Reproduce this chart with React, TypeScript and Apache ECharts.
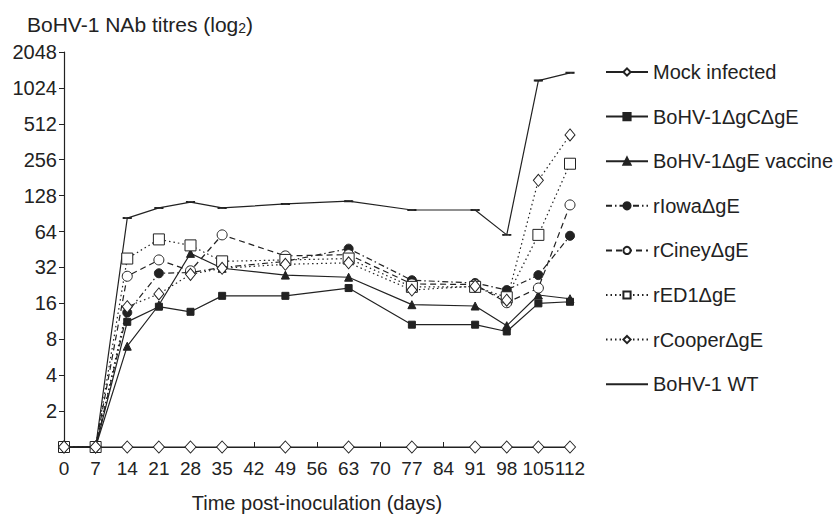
import React, { useEffect, useRef } from "react";
import * as echarts from "echarts";

// Days post-inoculation at which titres were measured
const days = [0, 7, 14, 21, 28, 35, 49, 63, 77, 91, 98, 105, 112];
const xTicks = [0, 7, 14, 21, 28, 35, 42, 49, 56, 63, 70, 77, 84, 91, 98, 105, 112];
const yTicks = [2, 4, 8, 16, 32, 64, 128, 256, 512, 1024, 2048];

const seriesNames = [
  "Mock infected",
  "BoHV-1\u0394gC\u0394gE",
  "BoHV-1\u0394gE vaccine",
  "rIowa\u0394gE",
  "rCiney\u0394gE",
  "rED1\u0394gE",
  "rCooper\u0394gE",
  "BoHV-1 WT",
];

// NAb titres (value 1 = baseline, shown as "0")
const mockInfected = [1, 1, 1, 1, 1, 1, 1, 1, 1, 1, 1, 1, 1];
const gCgE = [1, 1, 11.2, 15, 13.6, 18.5, 18.5, 21.5, 10.6, 10.6, 9.3, 16, 16.5];
const gEVaccine = [1, 1, 7, 15.5, 42, 31.5, 27.6, 26.5, 15.6, 15.2, 10.4, 18.8, 17.5];
const rIowa = [1, 1, 13.4, 28.6, 29, 32, 36, 46, 25, 23.7, 20.7, 27.6, 59];
const rCiney = [1, 1, 27, 37, 30, 60, 40, 41, 23.3, 23, 16.2, 21.5, 107];
const rED1 = [1, 1, 38, 55, 49, 36, 37, 38, 22, 22, 18, 60, 237];
const rCooper = [1, 1, 15, 19.2, 28, 31.5, 34, 35, 20.7, 22.3, 17, 172, 413];
const wt = [1, 1, 83, 101, 113, 101, 109, 115, 97, 97, 60, 1180, 1370];

const FONT = "'Liberation Sans', Arial, Helvetica, sans-serif";
const INK = "#222";

function makeSeries(
  name: string,
  values: number[],
  symbol: string,
  size: number | number[],
  filled: boolean,
  dash: any
) {
  return {
    name,
    type: "line",
    // y axis is log2 of the titre
    data: days.map((d, i) => [d, Math.log2(values[i])]),
    symbol,
    symbolSize: size,
    silent: true,
    lineStyle: { color: INK, width: 1.2, type: dash },
    itemStyle: {
      color: filled ? INK : "#fff",
      borderColor: INK,
      borderWidth: 1,
    },
    emphasis: { disabled: true },
  };
}

export default function App() {
  const ref = useRef<HTMLDivElement>(null);

  useEffect(() => {
    const chart = echarts.init(ref.current!, null, { renderer: "svg" });
    const series = [
      makeSeries(seriesNames[7], wt, "rect", [7, 1.5], true, "solid"),
      makeSeries(seriesNames[1], gCgE, "rect", 7, true, "solid"),
      makeSeries(seriesNames[2], gEVaccine, "triangle", 8, true, "solid"),
      makeSeries(seriesNames[3], rIowa, "circle", 9, true, [6, 3, 1.5, 3]),
      makeSeries(seriesNames[4], rCiney, "circle", 10, false, [6, 4]),
      makeSeries(seriesNames[5], rED1, "rect", 11, false, [1.5, 3]),
      makeSeries(seriesNames[6], rCooper, "diamond", [10, 12], false, [1.5, 3]),
      makeSeries(seriesNames[0], mockInfected, "diamond", [11, 12], false, "solid"),
    ];

    chart.setOption({
      animation: false,
      backgroundColor: "#fff",
      textStyle: { fontFamily: FONT, color: INK },
      title: {
        text: "BoHV-1 NAb titres (log{sub|2})",
        left: 22,
        top: 8,
        textStyle: {
          fontFamily: FONT,
          fontSize: 21,
          fontWeight: "normal",
          color: INK,
          rich: {
            sub: {
              fontFamily: FONT,
              fontSize: 14,
              color: INK,
              verticalAlign: "bottom",
              padding: [8, 0, 0, 0],
            },
          },
        },
      },
      legend: {
        orient: "vertical",
        left: 605,
        top: 62,
        padding: 0,
        itemWidth: 42,
        itemHeight: 9,
        itemGap: 24.6,
        selectedMode: false,
        data: seriesNames.map((n) =>
          n === "BoHV-1 WT" ? { name: n, itemStyle: { opacity: 0 } } : { name: n }
        ),
        textStyle: { fontFamily: FONT, fontSize: 20, color: INK, lineHeight: 20 },
      },
      grid: { left: 64, top: 52, width: 506, height: 400 },
      xAxis: {
        type: "value",
        min: 0,
        max: 112,
        interval: 7,
        name: "Time post-inoculation (days)",
        nameLocation: "middle",
        nameGap: 46,
        nameTextStyle: { fontFamily: FONT, fontSize: 20, color: INK },
        axisLine: { show: true, lineStyle: { color: INK, width: 1.2 } },
        axisTick: { show: true, inside: true, length: 5, lineStyle: { color: INK } },
        axisLabel: {
          fontFamily: FONT,
          fontSize: 19,
          color: INK,
          margin: 12,
          showMinLabel: true,
          showMaxLabel: true,
          hideOverlap: false,
          formatter: (v: number) => (xTicks.includes(v) ? String(v) : ""),
        },
        splitLine: { show: false },
      },
      yAxis: {
        type: "value",
        min: 0,
        max: 11,
        interval: 1,
        axisLine: { show: true, lineStyle: { color: INK, width: 1.2 } },
        axisTick: { show: true, inside: false, length: 5, lineStyle: { color: INK } },
        axisLabel: {
          fontFamily: FONT,
          fontSize: 20,
          color: INK,
          margin: 7,
          formatter: (v: number) => {
            const t = Math.round(Math.pow(2, v));
            return yTicks.includes(t) ? String(t) : "";
          },
        },
        splitLine: { show: false },
      },
      series,
    });

    return () => chart.dispose();
  }, []);

  return (
    <div
      ref={ref}
      style={{ position: "absolute", left: 0, top: 0, width: 840, height: 518, background: "#fff" }}
    />
  );
}
